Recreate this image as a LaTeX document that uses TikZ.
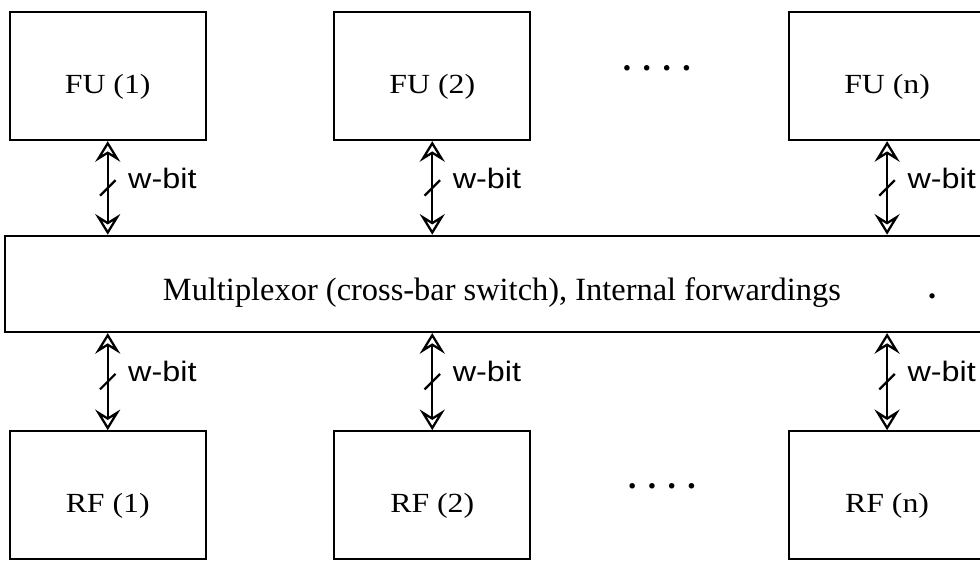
\documentclass[tikz,border=0pt]{standalone}
\usepackage{fontspec}
\setmainfont{Liberation Serif}
\newfontfamily\boxfont[FakeStretch=1.15]{Liberation Serif}
\newfontfamily\busfont[FakeStretch=1.15]{Liberation Sans}
\usepackage{tikz}
\usetikzlibrary{arrows.meta,positioning,decorations.markings}

\begin{document}
\begin{tikzpicture}[
        unitbox/.style={draw, line width=1pt, minimum width=3.04cm, minimum height=1.98cm, inner sep=0pt, text height=15pt, text depth=0pt, font=\boxfont\fontsize{12.2}{14}\selectfont},
        muxbox/.style={draw, line width=1pt, minimum width=15.4cm, minimum height=1.49cm, text height=15pt, text depth=0pt, font=\fontsize{14.3}{16}\selectfont},
        bus/.style={line width=1pt, {Stealth[open,length=3.2mm,width=3.9mm,inset=1.2mm]}-{Stealth[open,length=3.2mm,width=3.9mm,inset=1.2mm]}, postaction={decorate}, decoration={markings, mark=at position 0.5 with {\draw[-] (-0.12,0.12) -- (0.12,-0.12);}}},
        buslabel/.style={anchor=west, inner sep=0pt, xshift=0.3cm, font=\busfont\fontsize{12.4}{14}\selectfont},
        dotsnode/.style={inner sep=0pt, font=\bfseries\fontsize{15}{16}\selectfont}
        ]
    \useasboundingbox (0,0) rectangle (15.19,-8.68);

        % Nodes
        \node[unitbox] (fu1) at (1.67,-1.18) {FU (1)};
        \node[unitbox] (fu2) at (6.70,-1.18) {FU (2)};
        \node[unitbox] (fun) at (13.75,-1.18) {FU (n)};
        \node[muxbox] (mux) at (7.78,-4.40) {Multiplexor (cross-bar switch), Internal forwardings};
        \node[unitbox] (rf1) [below=4.48cm of fu1] {RF (1)};
        \node[unitbox] (rf2) [below=4.48cm of fu2] {RF (2)};
        \node[unitbox] (rfn) [below=4.48cm of fun] {RF (n)};
        \node[dotsnode] (fudots) at (10.18,-1.12) {· · · ·};
        \node[dotsnode] (rfdots) at (10.26,-7.60) {· · · ·};
        \node[font=\bfseries\fontsize{14.3}{16}\selectfont, anchor=base, inner sep=0pt] (muxdot) at (14.45,-4.63) {.};

        % Lines
        \draw[bus] (fu1.south) -- node[buslabel, pos=0.4] {w-bit} (fu1.south |- mux.north);
        \draw[bus] (fu2.south) -- node[buslabel, pos=0.4] {w-bit} (fu2.south |- mux.north);
        \draw[bus] (fun.south) -- node[buslabel, pos=0.4] {w-bit} (fun.south |- mux.north);
        \draw[bus] (mux.south -| rf1.north) -- node[buslabel, pos=0.4] {w-bit} (rf1.north);
        \draw[bus] (mux.south -| rf2.north) -- node[buslabel, pos=0.4] {w-bit} (rf2.north);
        \draw[bus] (mux.south -| rfn.north) -- node[buslabel, pos=0.4] {w-bit} (rfn.north);

    \end{tikzpicture}
\end{document}
